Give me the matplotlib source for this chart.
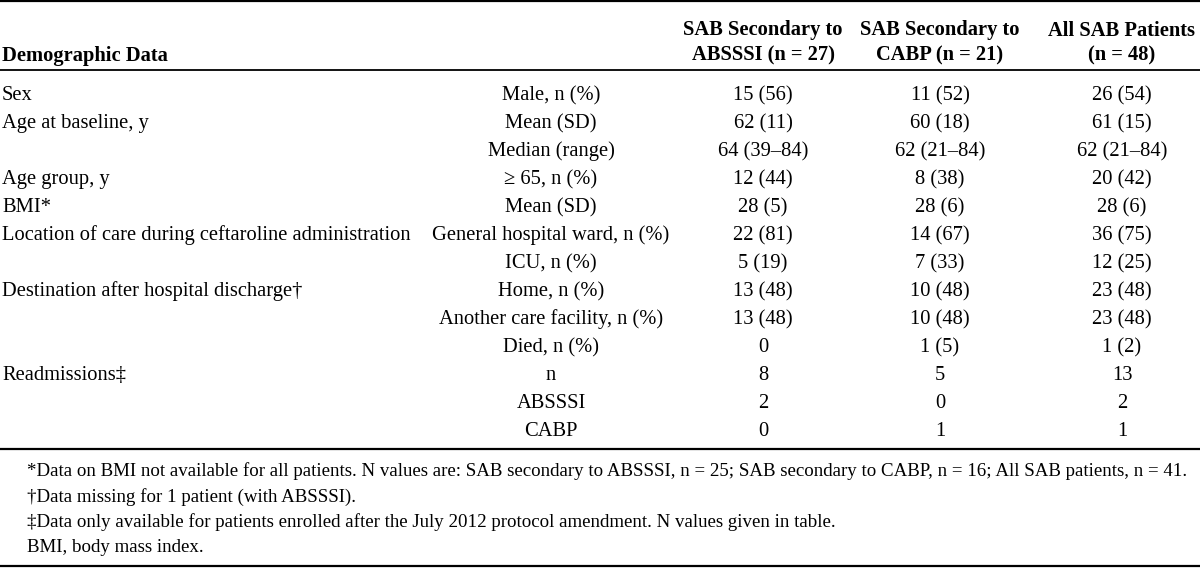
import matplotlib
matplotlib.use("Agg")
import matplotlib.pyplot as plt

# ---- data ----
header_label = "Demographic Data"
col_headers = ["SAB Secondary to\nABSSSI (n = 27)",
               "SAB Secondary to\nCABP (n = 21)",
               "All SAB Patients\n(n = 48)"]
categories = ["Sex", "Age at baseline, y", "", "Age group, y", "BMI*",
              "Location of care during ceftaroline administration", "",
              "Destination after hospital discharge\u2020", "", "",
              "Readmissions\u2021", "", ""]
subcategories = ["Male, n (%)", "Mean (SD)", "Median (range)", "\u2265 65, n (%)",
                 "Mean (SD)", "General hospital ward, n (%)", "ICU, n (%)",
                 "Home, n (%)", "Another care facility, n (%)", "Died, n (%)",
                 "n", "ABSSSI", "CABP"]
absssi = ["15 (56)", "62 (11)", "64 (39\u201384)", "12 (44)", "28 (5)", "22 (81)",
          "5 (19)", "13 (48)", "13 (48)", "0", "8", "2", "0"]
cabp = ["11 (52)", "60 (18)", "62 (21\u201384)", "8 (38)", "28 (6)", "14 (67)",
        "7 (33)", "10 (48)", "10 (48)", "1 (5)", "5", "0", "1"]
all_sab = ["26 (54)", "61 (15)", "62 (21\u201384)", "20 (42)", "28 (6)", "36 (75)",
           "12 (25)", "23 (48)", "23 (48)", "1 (2)", "13", "2", "1"]
footnotes = [
    "*Data on BMI not available for all patients. N values are: SAB secondary to ABSSSI, n = 25; SAB secondary to CABP, n = 16; All SAB patients, n = 41.",
    "\u2020Data missing for 1 patient (with ABSSSI).",
    "\u2021Data only available for patients enrolled after the July 2012 protocol amendment. N values given in table.",
    "BMI, body mass index.",
]

# ---- layout ----
W, H = 1200, 574
fig = plt.figure(figsize=(W / 100, H / 100), dpi=100)
ax = fig.add_axes([0, 0, 1, 1])
ax.set_xlim(0, W)
ax.set_ylim(H, 0)
ax.axis("off")

FONT = ["Liberation Serif", "DejaVu Serif"]
FS = 14.8
FS_FN = 13.6

x_cat = 2
x_sub = 551
x_cols = [763, 940, 1122]
row0 = 93
row_step = 28.0
x_fn = 27
fn0 = 469
fn_step = 25.5

# rules
for y, lw in [(1, 1.6), (70, 1.3), (449, 1.6), (566, 1.6)]:
    ax.plot([0, W], [y, y], color="black", lw=lw, solid_capstyle="butt")

# header
ax.text(x_cat, 53, header_label, fontsize=FS, fontweight="bold",
        family=FONT, ha="left", va="center_baseline")
for x, h in zip(x_cols, col_headers):
    l1, l2 = h.split("\n")
    ax.text(x, 28, l1, fontsize=FS, fontweight="bold", family=FONT,
            ha="center", va="center_baseline")
    ax.text(x, 53, l2, fontsize=FS, fontweight="bold", family=FONT,
            ha="center", va="center_baseline")

# body
for i in range(len(subcategories)):
    y = row0 + i * row_step
    if categories[i]:
        ax.text(x_cat, y, categories[i], fontsize=FS, family=FONT,
                ha="left", va="center_baseline")
    ax.text(x_sub, y, subcategories[i], fontsize=FS, family=FONT,
            ha="center", va="center_baseline")
    for x, col in zip(x_cols, [absssi, cabp, all_sab]):
        ax.text(x, y, col[i], fontsize=FS, family=FONT,
                ha="center", va="center_baseline")

# footnotes
for j, fn in enumerate(footnotes):
    ax.text(x_fn, fn0 + j * fn_step, fn, fontsize=FS_FN, family=FONT,
            ha="left", va="center_baseline")

fig.savefig("out.png", dpi=100)
